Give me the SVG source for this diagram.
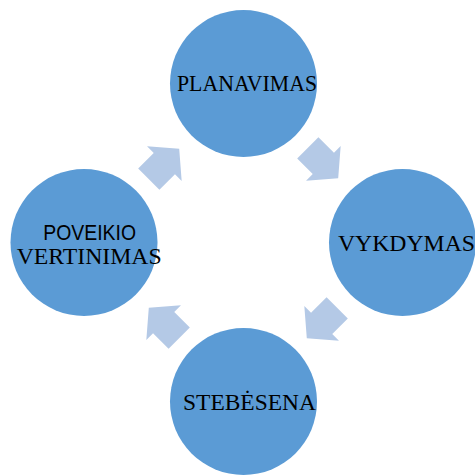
<svg xmlns="http://www.w3.org/2000/svg" width="475" height="475" viewBox="0 0 475 475">
<style>
.node{fill:#5B9BD5}
.arr{fill:#B4C9E6}
.serif{font-family:"Liberation Serif","Times New Roman",serif;font-size:22.5px;fill:#000}
.sans{font-family:"Liberation Sans",Arial,sans-serif;font-size:22px;fill:#000}
</style>
<defs>
<polygon id="blk" points="-21.5,-15 0.5,-15 0.5,-24.5 21.5,0 0.5,24.5 0.5,15 -21.5,15"/>
</defs>
<g id="connectors">
<use href="#blk" class="arr" transform="translate(164,164) rotate(-45)"/>
<use href="#blk" class="arr" transform="translate(323,163) rotate(45)"/>
<use href="#blk" class="arr" transform="translate(322,323) rotate(135)"/>
<use href="#blk" class="arr" transform="translate(164,323) rotate(-135)"/>
</g>
<g id="planavimas">
<circle class="node" cx="243.5" cy="83.5" r="73.5"/>
<text class="serif" x="177" y="91" textLength="140" lengthAdjust="spacingAndGlyphs">PLANAVIMAS</text>
</g>
<g id="vykdymas">
<circle class="node" cx="402.5" cy="242.5" r="73.5"/>
<text class="serif" x="338" y="251" textLength="137" lengthAdjust="spacingAndGlyphs">VYKDYMAS</text>
</g>
<g id="stebesena">
<circle class="node" cx="243.5" cy="401.5" r="73.5"/>
<text class="serif" x="183" y="410" textLength="133" lengthAdjust="spacingAndGlyphs">STEBĖSENA</text>
</g>
<g id="poveikio-vertinimas">
<circle class="node" cx="84" cy="242.5" r="73.5"/>
<text class="sans" x="43.3" y="240" textLength="92.7" lengthAdjust="spacingAndGlyphs">POVEIKIO</text>
<text class="serif" x="16.7" y="263.5" textLength="145" lengthAdjust="spacingAndGlyphs">VERTINIMAS</text>
</g>
</svg>
